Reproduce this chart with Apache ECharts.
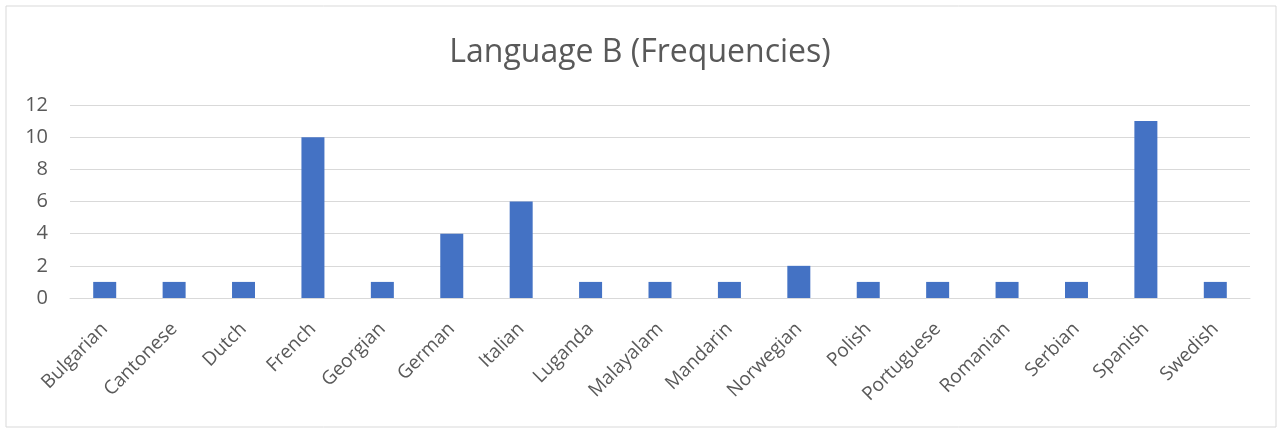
<!DOCTYPE html>
<html><head><meta charset="utf-8">
<script src="https://cdn.jsdelivr.net/npm/echarts@6/dist/echarts.min.js"></script>
<style>html,body{margin:0;padding:0;background:#fff}#c{width:1280px;height:430px}</style>
</head><body><div id="c"></div>
<script>
const categories = ["Bulgarian","Cantonese","Dutch","French","Georgian","German","Italian","Luganda","Malayalam","Mandarin","Norwegian","Polish","Portuguese","Romanian","Serbian","Spanish","Swedish"];
const frequencies = [1,1,1,10,1,4,6,1,1,1,2,1,1,1,1,11,1];
const yTicks = {min:0, max:12, interval:2};
const chart = echarts.init(document.getElementById('c'));
chart.setOption({
  animation:false,
  graphic:[{type:'rect',shape:{x:6,y:6,width:1270,height:421},style:{fill:'none',stroke:'#d9d9d9',lineWidth:1}}],
  title:{text:'Language B (Frequencies)',left:'center',top:32,textStyle:{fontFamily:'Open Sans',fontSize:32,fontWeight:'normal',color:'#595959'}},
  grid:{left:70,right:30,top:105,bottom:132,containLabel:false},
  xAxis:{type:'category',data:categories,
    axisLine:{lineStyle:{color:'#d9d9d9',width:1}},axisTick:{show:false},
    axisLabel:{rotate:45,interval:0,margin:28,fontFamily:'Open Sans',fontSize:19,color:'#595959'}},
  yAxis:{type:'value',min:yTicks.min,max:yTicks.max,interval:yTicks.interval,
    axisLine:{show:false},axisTick:{show:false},
    splitLine:{lineStyle:{color:'#d9d9d9',width:1}},
    axisLabel:{margin:22,fontFamily:'Open Sans',fontSize:20,color:'#595959'}},
  series:[{type:'bar',data:frequencies,barWidth:23,itemStyle:{color:'#4472c4'}}]
});
</script></body></html>
